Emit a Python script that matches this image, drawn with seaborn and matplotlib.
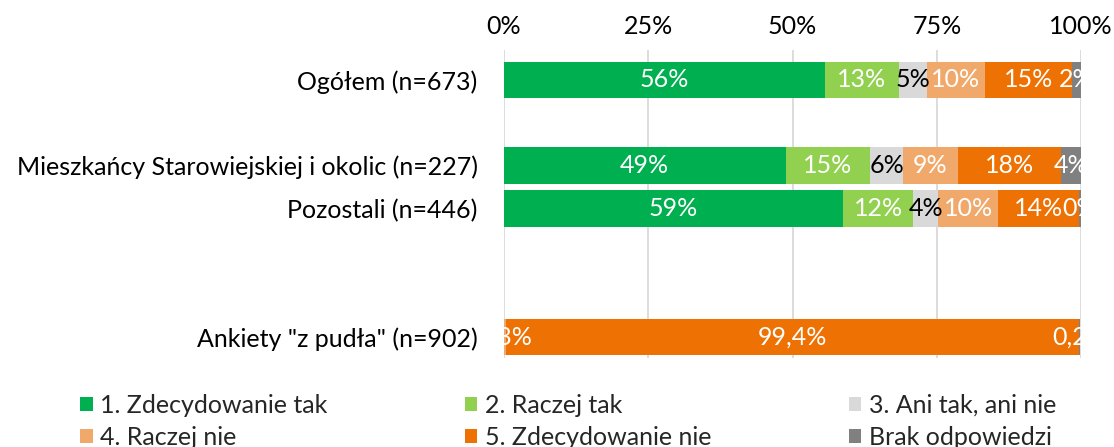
import matplotlib
matplotlib.use("Agg")
import matplotlib.pyplot as plt
from matplotlib.patches import Patch
import numpy as np
import pandas as pd
import seaborn as sns

# ----------------------
# Data
# ----------------------
groups = ["Ogółem (n=673)",
          "Mieszkańcy Starowiejskiej i okolic (n=227)",
          "Pozostali (n=446)",
          "Ankiety \"z pudła\" (n=902)"]
answers = ["1. Zdecydowanie tak", "2. Raczej tak", "3. Ani tak, ani nie",
           "4. Raczej nie", "5. Zdecydowanie nie", "Brak odpowiedzi"]
ogolem = [55.6, 12.8, 4.9, 10.0, 15.1, 1.6]
mieszkancy = [48.8, 14.6, 5.8, 9.4, 17.9, 3.5]
pozostali = [58.8, 12.1, 4.4, 10.3, 14.0, 0.4]
z_pudla = [0.0, 0.0, 0.0, 0.3, 99.4, 0.2]
x_ticks = [0, 25, 50, 75, 100]
x_tick_labels = ["0%", "25%", "50%", "75%", "100%"]

colors = ["#00B050", "#92D050", "#D9D9D9", "#F0A96A", "#EE7203", "#808080"]
label_colors = ["white", "white", "black", "white", "white", "white"]

# empty slots between groups, as in the original chart
order = [groups[0], " ", groups[1], groups[2], "  ", "   ", groups[3]]

df = pd.DataFrame([ogolem, mieszkancy, pozostali, z_pudla], columns=answers)
df.insert(0, "grupa", groups)
cum = df[answers].cumsum(axis=1)
cum.insert(0, "grupa", groups)

sns.set_style("white")
plt.rcParams["font.family"] = ["Lato", "DejaVu Sans"]
FS = 18

fig = plt.figure(figsize=(11.14, 4.47), dpi=100)
ax = fig.add_axes([504 / 1114, 1 - 358 / 447, 577 / 1114, 308 / 447])

# stacked bars: draw cumulative totals from the last answer to the first
for i in range(len(answers) - 1, -1, -1):
    sns.barplot(data=cum, x=answers[i], y="grupa", order=order, orient="h",
                color=colors[i], saturation=1, width=0.85, ax=ax, linewidth=0)

# value labels, clipped to the plot area like in the original
pos = {g: order.index(g) for g in groups}
for r, g in enumerate(groups):
    left = 0
    for i, a in enumerate(answers):
        v = df.loc[r, a]
        if v > 0:
            if g == groups[3]:
                txt = f"{v:.1f}%".replace(".", ",")
            else:
                txt = f"{v:.0f}%"
            ax.text(left + v / 2, pos[g], txt, ha="center", va="center",
                    color=label_colors[i], fontsize=FS, clip_on=True)
        left += v

ax.set_xlim(0, 100)
ax.set_ylim(6.49, -0.7)
ax.set_xticks(x_ticks)
ax.set_xticklabels(x_tick_labels)
ax.xaxis.tick_top()
ax.tick_params(axis="x", length=0, pad=9, labelsize=FS, colors="black")
ax.tick_params(axis="y", length=0, pad=19, labelsize=FS, colors="black")
ax.set_xlabel("")
ax.set_ylabel("")
ax.grid(axis="x", color="#D9D9D9", linewidth=1.3)
ax.set_axisbelow(True)
sns.despine(ax=ax, left=True, bottom=True, top=True, right=True)

# legend: row-wise order in 3 columns
handles = [Patch(facecolor=c, edgecolor="none") for c in colors]
idx = [0, 3, 1, 4, 2, 5]
fig.legend([handles[k] for k in idx], [answers[k] for k in idx],
           loc="upper left", bbox_to_anchor=(80 / 1114, 1 - 394 / 447),
           ncol=3, frameon=False, fontsize=FS, handlelength=0.5,
           handleheight=0.5, handletextpad=0.3, columnspacing=5.5,
           labelspacing=0.35, borderaxespad=0, borderpad=0)

plt.savefig("out.png", dpi=100)
plt.close()
